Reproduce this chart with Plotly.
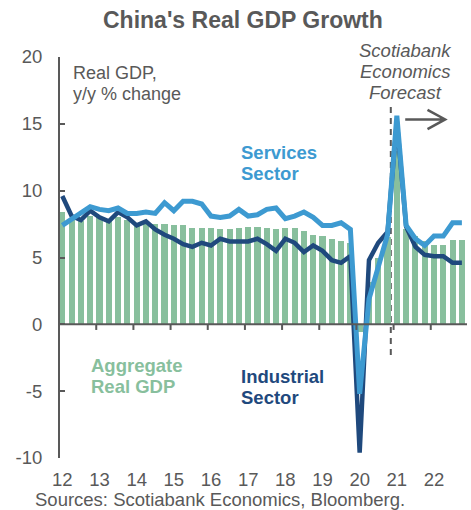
import plotly.graph_objects as go

# ---------------- data ----------------
years = ["12", "13", "14", "15", "16", "17", "18", "19", "20", "21", "22"]
quarters = [f"{y}Q{q}" for y in years for q in range(1, 5)]

aggregate_gdp = [8.4, 7.9, 7.7, 8.1, 8.0, 7.8, 8.0, 7.8, 7.6, 7.6, 7.5,
                 7.5, 7.4, 7.4, 7.2, 7.2, 7.2, 7.1, 7.1, 7.2, 7.3, 7.3,
                 7.2, 7.1, 7.2, 7.2, 7.0, 6.7, 6.6, 6.4, 6.2, 6.1, -0.6,
                 3.2, 5.0, 6.5, 13.0, 7.1, 6.6, 6.2, 5.9, 5.9, 6.3, 6.3]

services = [7.4, 7.9, 8.3, 8.8, 8.6, 8.5, 8.7, 8.3, 8.3, 8.4, 8.3,
            9.1, 8.5, 9.2, 9.2, 9.0, 8.1, 8.0, 8.1, 8.6, 8.1, 8.2,
            8.6, 8.7, 7.9, 8.1, 8.4, 8.0, 7.4, 7.4, 7.6, 7.1, -5.2,
            1.9, 4.3, 6.7, 15.6, 7.4, 6.4, 5.9, 6.6, 6.6, 7.6, 7.6]

industrial = [9.6, 8.1, 7.8, 8.5, 8.0, 7.7, 8.4, 8.0, 7.4, 7.7, 7.1,
              6.7, 6.4, 6.0, 5.8, 6.1, 5.9, 6.4, 6.2, 6.2, 6.2, 6.4,
              6.0, 5.5, 6.4, 6.1, 5.4, 5.9, 5.5, 4.8, 4.6, 5.1, -9.6,
              4.8, 6.1, 6.9, 15.2, 7.3, 5.8, 5.2, 5.1, 5.1, 4.6, 4.6]

y_ticks = [-10, -5, 0, 5, 10, 15, 20]

# ---------------- styling ----------------
GRAY = "#595959"
GREEN = "#88BF9D"
LIGHT_BLUE = "#3D9AD1"
NAVY = "#1F497D"
FONT = "Liberation Sans, Arial, sans-serif"

x = list(range(len(quarters)))
year_pos = [4 * i for i in range(len(years))]
forecast_x = 35.35

W, H = 471, 510
L, R, T, B = 60, 4, 57, 52


def pxx(p):
    return (p - L) / (W - L - R)


def pyy(p):
    return (H - B - p) / (H - T - B)


fig = go.Figure()
fig.add_trace(go.Bar(x=x, y=aggregate_gdp, marker=dict(color=GREEN, line=dict(width=0)),
                     width=0.66, name="Aggregate Real GDP"))
fig.add_trace(go.Scatter(x=x, y=industrial, mode="lines",
                         line=dict(color=NAVY, width=4.5), name="Industrial Sector"))
fig.add_trace(go.Scatter(x=x, y=services, mode="lines",
                         line=dict(color=LIGHT_BLUE, width=5), name="Services Sector"))

shapes = []
# zero line
shapes.append(dict(type="line", xref="paper", yref="y", x0=0, x1=1, y0=0, y1=0,
                   line=dict(color=GRAY, width=2), layer="above"))
# x tick marks at zero line
for p in year_pos[1:]:
    shapes.append(dict(type="line", xref="x", yref="y", x0=p - 0.35, x1=p - 0.35,
                       y0=0, y1=-0.42, line=dict(color=GRAY, width=2), layer="above"))
# forecast dashed line
shapes.append(dict(type="line", xref="x", yref="y", x0=forecast_x, x1=forecast_x,
                   y0=-2.3, y1=16.6, line=dict(color=GRAY, width=2, dash="6px,5px"),
                   layer="below"))
# arrow
ay = 15.33
shapes.append(dict(type="path", xref="x", yref="y",
                   path=f"M 36.9 {ay} L 41.2 {ay} M 39.3 {ay + 0.72} L 41.2 {ay} L 39.3 {ay - 0.72}",
                   line=dict(color=GRAY, width=2.5)))

annotations = []


def txt(s, xp, yp, size, color=GRAY, bold=False, italic=False, anchor="left"):
    t = f"<b>{s}</b>" if bold else s
    if italic:
        t = f"<i>{t}</i>"
    annotations.append(dict(text=t, x=pxx(xp), y=pyy(yp), xref="paper", yref="paper",
                            xanchor=anchor, yanchor="middle", showarrow=False,
                            font=dict(family=FONT, size=size, color=color)))


txt("China's Real GDP Growth", 243, 20, 23, bold=True, anchor="center")
txt("Real GDP,", 71, 73, 18)
txt("y/y % change", 71, 94, 18)
txt("Scotiabank", 405, 50, 18.5, italic=True, anchor="center")
txt("Economics", 405, 71, 18.5, italic=True, anchor="center")
txt("Forecast", 405, 92, 18.5, italic=True, anchor="center")
txt("Services", 239, 152, 18.5, color=LIGHT_BLUE, bold=True)
txt("Sector", 239, 173, 18.5, color=LIGHT_BLUE, bold=True)
txt("Aggregate", 89, 365, 18.5, color=GREEN, bold=True)
txt("Real GDP", 89, 386, 18.5, color=GREEN, bold=True)
txt("Industrial", 239, 376, 18.5, color=NAVY, bold=True)
txt("Sector", 239, 397, 18.5, color=NAVY, bold=True)
txt("Sources: Scotiabank Economics, Bloomberg.", 33, 500, 18.5)

fig.update_layout(
    width=W, height=H,
    margin=dict(l=L, r=R, t=T, b=B, pad=0),
    paper_bgcolor="white", plot_bgcolor="white",
    showlegend=False,
    bargap=0,
    shapes=shapes,
    annotations=annotations,
    xaxis=dict(range=[-0.25, 43.55], tickmode="array", tickvals=year_pos, ticktext=years,
               showline=False, showgrid=False, zeroline=False, ticks="",
               tickfont=dict(family=FONT, size=18.5, color=GRAY), ticklabelstandoff=8),
    yaxis=dict(range=[-10, 20], tickmode="array", tickvals=y_ticks,
               ticktext=[str(v) for v in y_ticks],
               showline=True, linecolor=GRAY, linewidth=2, ticks="inside", ticklen=5,
               tickwidth=2, tickcolor=GRAY, showgrid=False, zeroline=False,
               tickfont=dict(family=FONT, size=18.5, color=GRAY), ticklabelstandoff=12),
)

fig.write_html("out.html")
